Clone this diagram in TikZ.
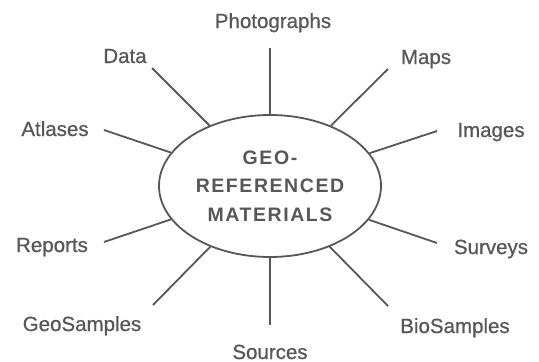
\documentclass[tikz,border=0pt]{standalone}
\usepackage{fontspec}
\setmainfont{Liberation Sans}
\newfontfamily\labelfont[FakeBold=0.7]{Liberation Sans}
\usetikzlibrary{shapes.geometric}
\definecolor{ink}{HTML}{575757}

\begin{document}
\begin{tikzpicture}[
x=1pt, y=-1pt,
every node/.style = {text=ink, anchor=base, inner sep=0pt, font=\labelfont\fontsize{20.5}{24}\selectfont},
hub/.style = {shape=ellipse, draw=ink, line width=1.8pt, minimum width=222pt, minimum height=142pt, anchor=center},
spoke/.style = {draw=ink, line width=1.8pt},
]
  \useasboundingbox (0,0) rectangle (539,362);

  % the middle
  \node[hub] (geo) at (270,186) {};
  \node[anchor=center, align=center,
        font=\rmfamily\bfseries\fontsize{19.5}{28.5}\selectfont\addfontfeature{LetterSpace=8}]
        (geo-title) at (270,186) {GEO-\\REFERENCED\\MATERIALS};

  % where the spokes stop
  \coordinate (photo-end)   at (270,48);
  \coordinate (data-end)    at (152,68);
  \coordinate (maps-end)    at (388,69);
  \coordinate (atlas-end)   at (104,130);
  \coordinate (images-end)  at (437,131);
  \coordinate (reports-end) at (104,242);
  \coordinate (surveys-end) at (437,243);
  \coordinate (geosam-end)  at (153,305);
  \coordinate (biosam-end)  at (388,306);
  \coordinate (sources-end) at (270,325);

  % labels (placed on their baselines)
  \node (photo)   at (273,28)  {Photographs};
  \node (data)    at (125,63)  {Data};
  \node (maps)    at (426,64)  {Maps};
  \node (atlas)   at (55,136)  {Atlases};
  \node (images)  at (491,137) {Images};
  \node (reports) at (52,252)  {Reports};
  \node (surveys) at (491,254) {Surveys};
  \node (geosam)  at (82,331)  {GeoSamples};
  \node (biosam)  at (455,333) {BioSamples};
  \node (sources) at (270,359) {Sources};

  % spokes
  \draw[spoke] (geo) -- (photo-end);
  \draw[spoke] (geo) -- (data-end);
  \draw[spoke] (geo) -- (maps-end);
  \draw[spoke] (geo) -- (atlas-end);
  \draw[spoke] (geo) -- (images-end);
  \draw[spoke] (geo) -- (reports-end);
  \draw[spoke] (geo) -- (surveys-end);
  \draw[spoke] (geo) -- (geosam-end);
  \draw[spoke] (geo) -- (biosam-end);
  \draw[spoke] (geo) -- (sources-end);
\end{tikzpicture}
\end{document}
